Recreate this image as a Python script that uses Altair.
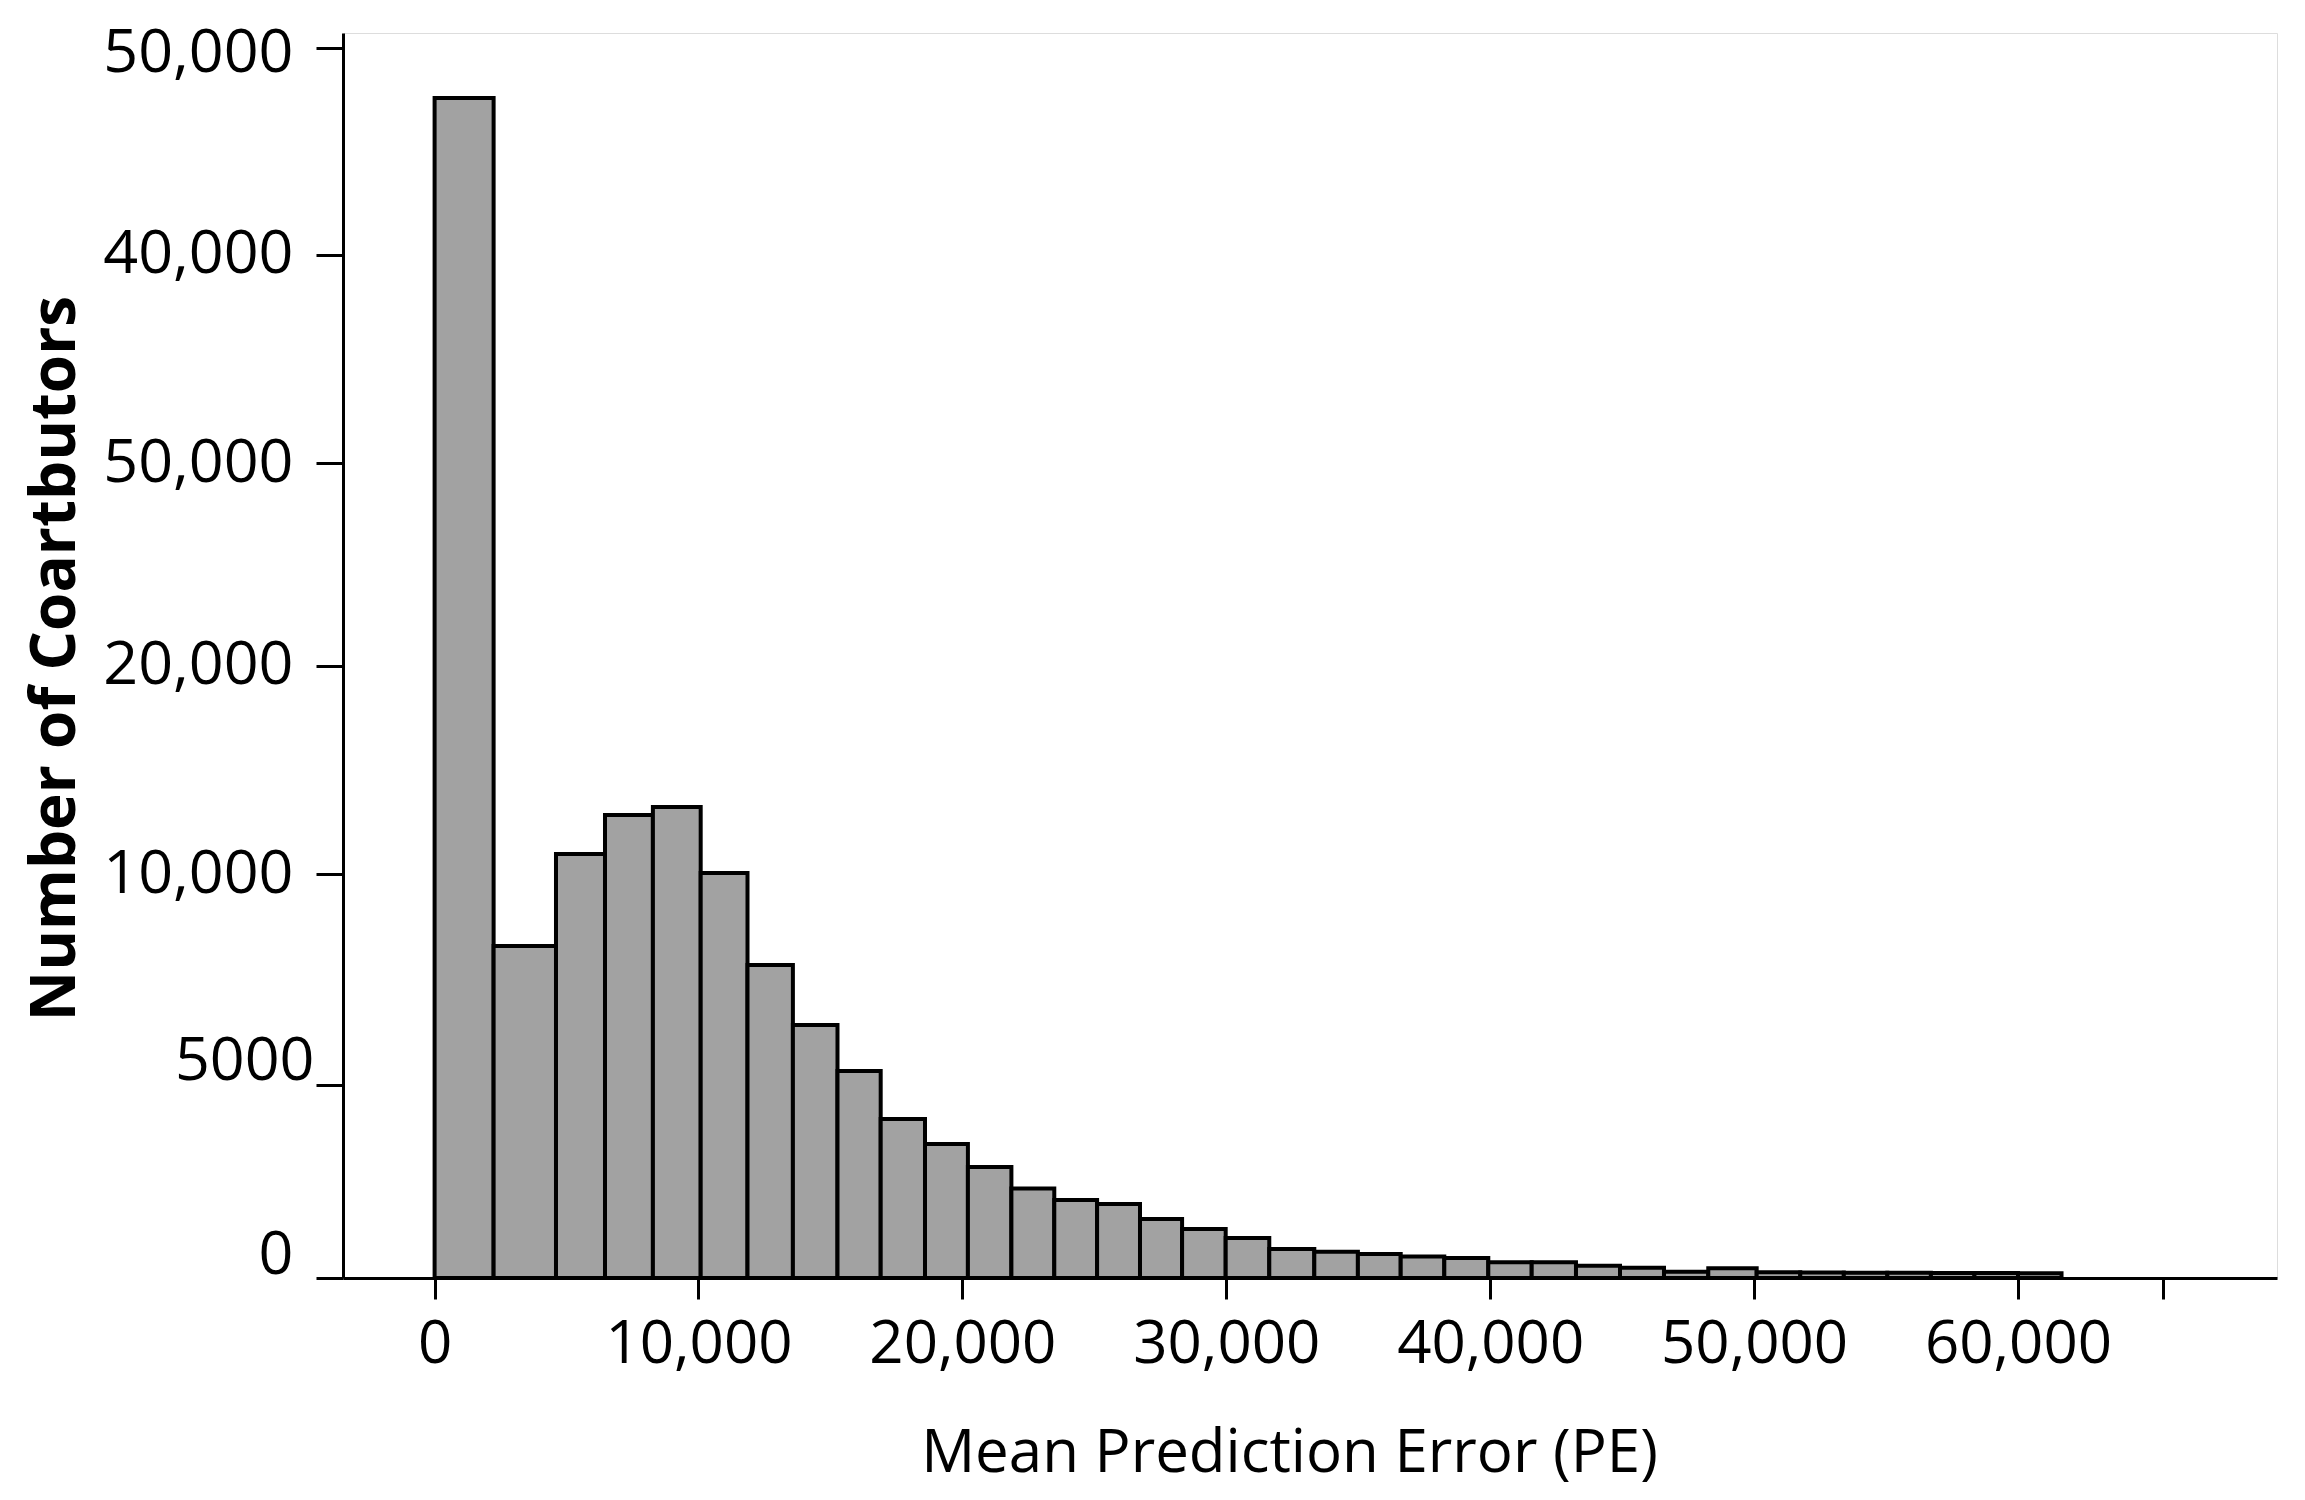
import altair as alt
import pandas as pd

# Bin edges (Mean Prediction Error) and bar heights
bin_start = [0, 2236, 4600, 6457, 8272, 10083, 11857, 13577, 15267, 16904,
             18583, 20209, 21857, 23482, 25104, 26730, 28325, 29977, 31629, 33335,
             34987, 36609, 38261, 39928, 41573, 43251, 44919, 46586, 48264, 50098,
             51750, 53400, 55050, 56700, 58350, 60000]
bin_end = [2236, 4600, 6457, 8272, 10083, 11857, 13577, 15267, 16904, 18583,
           20209, 21857, 23482, 25104, 26730, 28325, 29977, 31629, 33335, 34987,
           36609, 38261, 39928, 41573, 43251, 44919, 46586, 48264, 50098, 51750,
           53400, 55050, 56700, 58350, 60000, 61650]
# heights on the chart's (evenly spaced) vertical scale
counts = [57560, 16195, 20680, 22585, 22975, 19755, 15270, 12340, 10100, 7755,
          6535, 5415, 4365, 3805, 3610, 2880, 2390, 1950, 1415, 1285,
          1170, 1050, 975, 765, 765, 600, 500, 305, 470, 275,
          270, 260, 255, 245, 240, 230]

y_tick_values = [0, 9415, 19707, 29854, 39756, 49927, 60000]
y_tick_labels = ["0", "5000", "10,000", "20,000", "50,000", "40,000", "50,000"]
x_tick_values = [0, 10000, 20000, 30000, 40000, 50000, 60000, 65500]
x_tick_labels = ["0", "10,000", "20,000", "30,000", "40,000", "50,000", "60,000", ""]

df = pd.DataFrame({"start": bin_start, "end": bin_end, "count": counts})


def label_expr(values, labels):
    vals = ",".join(str(v) for v in values)
    labs = ",".join("'" + s + "'" for s in labels)
    return "[" + labs + "][indexof([" + vals + "], datum.value)]"


FONT = "Open Sans"

chart = alt.Chart(df).mark_bar(
    fill="#a2a2a2", stroke="black", strokeWidth=4, opacity=1
).encode(
    x=alt.X("start:Q",
            scale=alt.Scale(domain=[-3471, 69815], nice=False, zero=False),
            axis=alt.Axis(
                title="Mean Prediction Error (PE)",
                values=x_tick_values,
                labelExpr=label_expr(x_tick_values, x_tick_labels),
                grid=False, domain=True, domainColor="black", domainWidth=3,
                ticks=True, tickColor="black", tickWidth=3, tickSize=21,
                labelFont=FONT, labelFontSize=60, labelColor="black",
                labelPadding=16, labelFlush=False, labelOverlap=False, labelLimit=0,
                titleFont=FONT, titleFontSize=60, titleFontWeight="normal",
                titleColor="black", titlePadding=50, titleX=946,
            )),
    x2="end:Q",
    y=alt.Y("count:Q",
            scale=alt.Scale(domain=[0, 60732], nice=False),
            axis=alt.Axis(
                title="Number of Coartbutors",
                values=y_tick_values,
                labelExpr=label_expr(y_tick_values, y_tick_labels),
                grid=False, domain=True, domainColor="black", domainWidth=3,
                ticks=True, tickColor="black", tickWidth=3, tickSize=27,
                labelFont=FONT, labelFontSize=61, labelColor="black",
                labelPadding={"condition": {"test": "datum.value > 5000 && datum.value < 15000", "value": 2}, "value": 23},
                labelOffset={"condition": [
                    {"test": "datum.value < 15000", "value": -23},
                    {"test": "datum.value > 55000", "value": 5},
                ], "value": 0},
                labelFlush=False, labelOverlap=False, labelLimit=0,
                titleFont=FONT, titleFontSize=62, titleFontWeight="bold",
                titleColor="black", titleX=-288, titleY=625,
                titleBaseline="middle", titleAngle=270,
            )),
    y2=alt.datum(0),
).properties(
    width=1934,
    height=1245,
    autosize=alt.AutoSizeParams(type="none"),
    padding={"left": 335, "top": 25, "right": 20, "bottom": 220},
).configure_view(
    stroke="black", strokeWidth=3, fill="white"
).configure(background="white")

chart.save("out.html", embed_options={"renderer": "svg", "actions": False})
